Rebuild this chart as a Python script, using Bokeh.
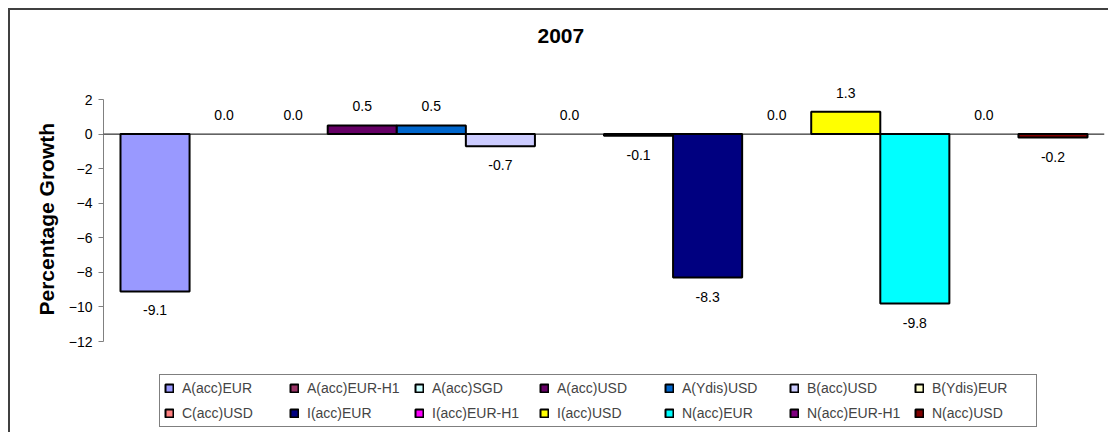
from bokeh.plotting import figure
from bokeh.models import Range1d, FixedTicker, Span, Legend, LegendItem, ColumnDataSource, Title
from bokeh.core.properties import value
from bokeh.embed import file_html
from bokeh.resources import INLINE

# ---- data ----
series = ["A(acc)EUR", "A(acc)EUR-H1", "A(acc)SGD", "A(acc)USD", "A(Ydis)USD",
          "B(acc)USD", "B(Ydis)EUR", "C(acc)USD", "I(acc)EUR", "I(acc)EUR-H1",
          "I(acc)USD", "N(acc)EUR", "N(acc)EUR-H1", "N(acc)USD"]
values = [-9.1, 0.0, 0.0, 0.5, 0.5, -0.7, 0.0, -0.1, -8.3, 0.0, 1.3, -9.8, 0.0, -0.2]
colors = ["#9999FF", "#993366", "#CCFFFF", "#660066", "#0066CC", "#CCCCFF", "#FFFFCC",
          "#FF8080", "#000080", "#FF00FF", "#FFFF00", "#00FFFF", "#800080", "#800000"]
y_ticks = [-12, -10, -8, -6, -4, -2, 0, 2]
title_text = "2007"
y_label = "Percentage Growth"

FONT = "Liberation Sans"
n = len(series)
gap = 0.246          # space at each end of the category, in bar widths
y_top = 4.49         # room above the axis for value labels
y_bottom = -17.378   # room below the axis for the legend

p = figure(width=1100, height=424, output_backend="svg", toolbar_location=None,
           x_range=Range1d(-0.5 - gap, n - 0.5 + gap),
           y_range=Range1d(y_bottom, y_top),
           x_axis_location=None,
           min_border_left=93, min_border_right=6, min_border_top=46, min_border_bottom=0)
p.styles = {"margin-left": "8px", "margin-top": "8px",
            "border-left": "2px solid #404040", "border-top": "2px solid #404040"}
p.outline_line_color = None
p.xgrid.grid_line_color = None
p.ygrid.grid_line_color = None
p.background_fill_color = "white"
p.border_fill_color = "white"

# title
p.title.text = title_text
p.title.text_font = FONT
p.title.text_font_size = "21px"
p.title.text_font_style = "bold"
p.title.text_color = "black"
p.title.align = "left"
p.title.offset = 434
p.title.standoff = 28

# y axis
ax = p.yaxis[0]
ax.ticker = FixedTicker(ticks=y_ticks)
ax.bounds = (min(y_ticks), max(y_ticks))
ax.axis_line_color = "#808080"
ax.major_tick_line_color = "#808080"
ax.major_tick_out = 5
ax.major_tick_in = 0
ax.minor_tick_line_color = None
ax.major_label_text_font = FONT
ax.major_label_text_font_size = "14px"
ax.major_label_text_color = "black"
ax.major_label_standoff = 6

# y axis title, placed alongside the value axis
ytitle = Title(text=y_label, align="left", offset=119, standoff=16,
               text_font=FONT, text_font_size="21px", text_font_style="bold",
               text_color="black")
p.add_layout(ytitle, "left")

# bars
items = []
for i, (name, v, c) in enumerate(zip(series, values, colors)):
    top = v if v != 0 else float("nan")
    src = ColumnDataSource(dict(x=[i], top=[top]))
    r = p.vbar(x="x", top="top", bottom=0, width=1.0, source=src,
               fill_color=c, line_color="black", line_width=2)
    items.append(LegendItem(label=name, renderers=[r]))

# category axis line at zero
p.add_layout(Span(location=0, dimension="width", line_color="black", line_width=1))

# value labels
lab = ColumnDataSource(dict(
    x=list(range(n)), y=values,
    text=[f"{v:.1f}" for v in values],
    yoff=[19 if v < 0 else -19 for v in values]))
p.text(x="x", y="y", text="text", y_offset="yoff", source=lab,
       text_align="center", text_baseline="middle",
       text_font=value(FONT), text_font_size="14px", text_color="black")

legend = Legend(items=items, orientation="horizontal", ncols=7,
                location=(56, 7),
                label_text_font=FONT, label_text_font_size="14px",
                label_width=100, label_height=18, label_standoff=8,
                glyph_width=10, glyph_height=10, spacing=7, padding=4, margin=0,
                border_line_color="black", border_line_width=1,
                background_fill_color="white", background_fill_alpha=1.0)
p.add_layout(legend, "center")

open("out.html", "w").write(file_html(p, INLINE))
